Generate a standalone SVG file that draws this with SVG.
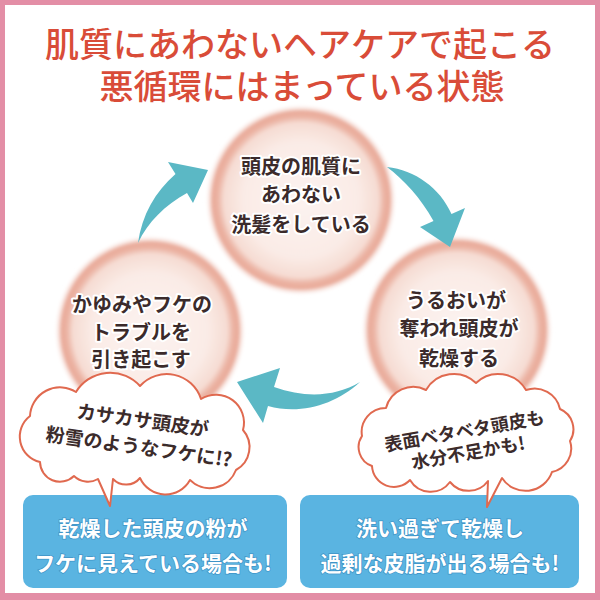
<svg xmlns="http://www.w3.org/2000/svg" width="600" height="600" viewBox="0 0 600 600">
<defs>
<radialGradient id="cg" cx="0.5" cy="0.5" r="0.5">
<stop offset="0" stop-color="#fcf3f0"/>
<stop offset="0.6" stop-color="#faebe6"/>
<stop offset="0.8" stop-color="#f6dcd3"/>
<stop offset="0.87" stop-color="#ebb2a2"/>
<stop offset="0.92" stop-color="#e9ab9a"/>
<stop offset="1" stop-color="#ffffff" stop-opacity="0"/>
</radialGradient>
<filter id="soft" x="-10%" y="-10%" width="120%" height="120%"><feGaussianBlur stdDeviation="1.5"/></filter>
<style>
.title{font-family:"Noto Sans CJK JP","Noto Sans",sans-serif;font-size:34px;font-weight:500;fill:#d94c38;text-anchor:middle}
.ct{font-family:"Noto Sans CJK JP","Noto Sans",sans-serif;font-size:20px;font-weight:700;fill:#3b2b2b;stroke:#ffffff;stroke-width:4;stroke-linejoin:round;paint-order:stroke;text-anchor:middle}
.cloud{fill:#ffffff;stroke:#e0694f;stroke-width:2;stroke-linejoin:round}
.qt{font-family:"Noto Sans CJK JP","Noto Sans",sans-serif;font-weight:700;fill:#3b2b2b;text-anchor:middle}
.box{fill:#5ab4e1}
.bt{font-family:"Noto Sans CJK JP","Noto Sans",sans-serif;font-size:21px;font-weight:700;fill:#ffffff;stroke:#3f95c8;stroke-width:1.5;paint-order:stroke;text-anchor:middle}
.arrow{fill:#5bb8c5}
</style>
</defs>
<rect x="0" y="0" width="600" height="600" fill="#ffffff"/>
<rect x="2.5" y="2.5" width="595" height="593" fill="none" stroke="#e38ea6" stroke-width="5"/>
<rect x="0" y="594" width="600" height="6" fill="#e38ea6"/>

<g id="title">
<text class="title" x="300" y="57">肌質にあわないヘアケアで起こる</text>
<text class="title" x="302" y="99">悪循環にはまっている状態</text>
</g>

<g id="node-top">
<circle cx="301" cy="200" r="96" fill="url(#cg)" filter="url(#soft)"/>
<text class="ct" x="301" y="174">頭皮の肌質に</text>
<text class="ct" x="301" y="202">あわない</text>
<text class="ct" x="301" y="232">洗髪をしている</text>
</g>
<g id="node-left">
<circle cx="150" cy="331" r="96" fill="url(#cg)" filter="url(#soft)"/>
<text class="ct" x="142" y="312">かゆみやフケの</text>
<text class="ct" x="141" y="340">トラブルを</text>
<text class="ct" x="141" y="367">引き起こす</text>
</g>
<g id="node-right">
<circle cx="457" cy="330" r="96" fill="url(#cg)" filter="url(#soft)"/>
<text class="ct" x="456" y="308">うるおいが</text>
<text class="ct" x="459" y="336">奪われ頭皮が</text>
<text class="ct" x="459" y="366">乾燥する</text>
</g>

<g id="connectors">
<path class="arrow" d="M138,243 C142,215 155,192 175.5,174 L168,162 L208,170 L193,203 L187,193 C165,205 148,222 138,243 Z"/>
<path class="arrow" d="M387,167 C415,170 440,188 451.5,214 L465,208 L450,247 L420,227 L433.5,221 C420,197 405,181 387,167 Z"/>
<path class="arrow" d="M360,382 C335,397 305,398 274,387 L280,368 L237,382 L263,423 L268,406 C300,415 335,405 360,382 Z"/>
</g>

<g id="box-left">
<rect class="box" x="23" y="495" width="264" height="93" rx="10"/>
<text class="bt" x="153" y="536">乾燥した頭皮の粉が</text>
<text class="bt" x="153" y="571">フケに見えている場合も!</text>
</g>
<g id="box-right">
<rect class="box" x="300" y="495" width="279" height="93" rx="10"/>
<text class="bt" x="440" y="536">洗い過ぎて乾燥し</text>
<text class="bt" x="440" y="571">過剰な皮脂が出る場合も!</text>
</g>

<g id="bubble-left">
<path class="cloud" d="M40,462 A26,26 0 0 1 30,416 A30,30 0 0 1 76,392 A40,40 0 0 1 140,386 A36,36 0 0 1 201,399 A28,28 0 0 1 243,430 A26,26 0 0 1 236,470 A28,28 0 0 1 190,480 A28,28 0 0 1 140,478 A18,18 0 0 1 113,479 L110,506 L98,479 A20,20 0 0 1 74,476 A20,20 0 0 1 40,462 Z"/>
<g transform="rotate(8 140 440)">
<text class="qt" x="140" y="427" font-size="19">カサカサ頭皮が</text>
<text class="qt" x="140" y="454" font-size="19">粉雪のようなフケに!?</text>
</g>
</g>
<g id="bubble-right">
<path class="cloud" d="M372,466 A20,20 0 0 1 362,436 A24,24 0 0 1 386,408 A28,28 0 0 1 426,390 A32,32 0 0 1 476,383 A32,32 0 0 1 526,390 A26,26 0 0 1 560,409 A22,22 0 0 1 570,441 A24,24 0 0 1 552,472 A28,28 0 0 1 502,478 L487,507 L488,481 A24,24 0 0 1 450,482 A24,24 0 0 1 410,480 A22,22 0 0 1 372,466 Z"/>
<g transform="rotate(-10 468 440)">
<text class="qt" x="466" y="437" font-size="18">表面ベタベタ頭皮も</text>
<text class="qt" x="466" y="459" font-size="18">水分不足かも!</text>
</g>
</g>
</svg>
